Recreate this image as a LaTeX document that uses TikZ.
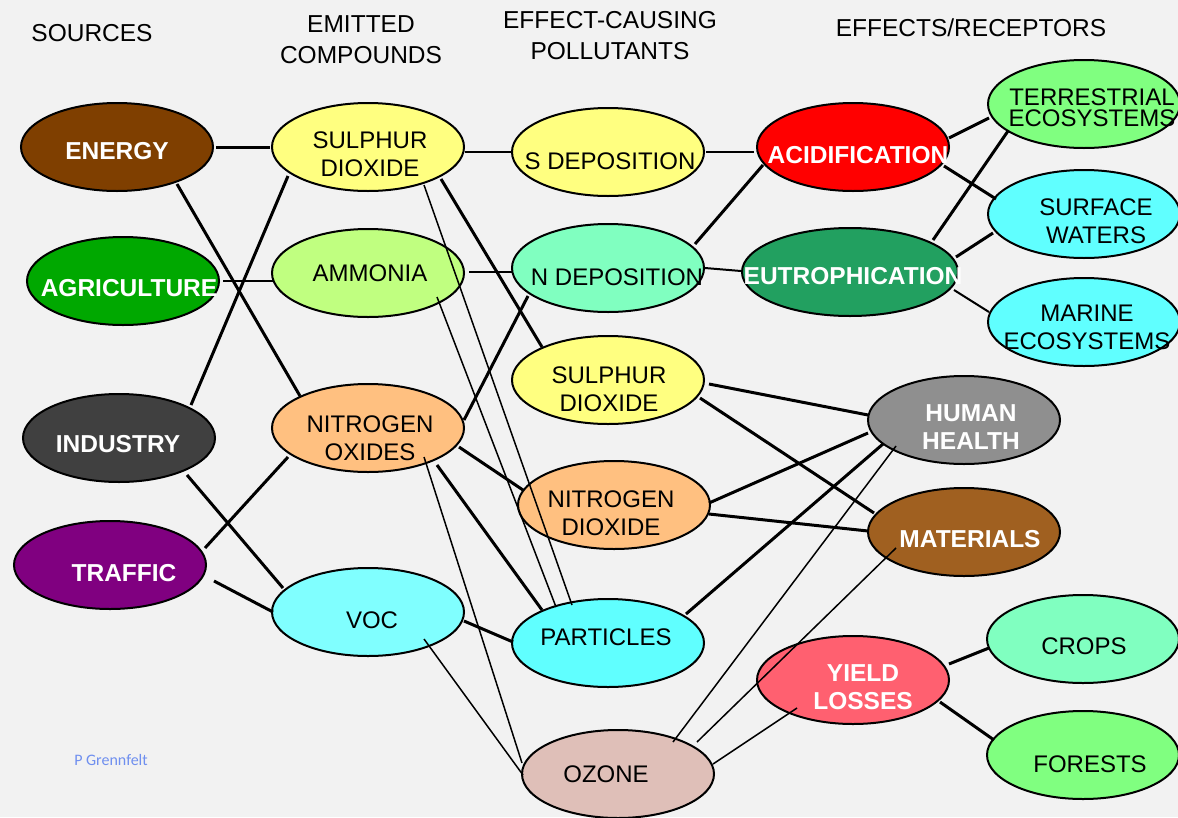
\documentclass[tikz,border=0pt]{standalone}
\usepackage{fontspec}
\setmainfont{Liberation Sans}
\newfontfamily\authorfont{Carlito}
\usetikzlibrary{shapes.geometric,calc}
\definecolor{bg}{HTML}{F2F2F2}
\definecolor{cEnergy}{HTML}{7F3F00}
\definecolor{cAgri}{HTML}{00A800}
\definecolor{cInd}{HTML}{404040}
\definecolor{cTraf}{HTML}{800080}
\definecolor{cYel}{HTML}{FFFF80}
\definecolor{cAmm}{HTML}{C0FF80}
\definecolor{cOra}{HTML}{FFC080}
\definecolor{cVoc}{HTML}{80FFFF}
\definecolor{cNdep}{HTML}{80FFC0}
\definecolor{cCyan}{HTML}{60FFFF}
\definecolor{cOzone}{HTML}{DFBFB8}
\definecolor{cAcid}{HTML}{FF0000}
\definecolor{cEutro}{HTML}{22A060}
\definecolor{cGreen}{HTML}{80FF80}
\definecolor{cHealth}{HTML}{8F8F8F}
\definecolor{cMat}{HTML}{A06020}
\definecolor{cYield}{HTML}{FF6070}
\definecolor{cAuthor}{HTML}{6F8FEF}
\tikzset{
  ell/.style={ellipse, draw=black, line width=2pt, minimum width=192pt, minimum height=88pt, inner sep=0pt},
  lbl/.style={font=\fontsize{24}{28}\selectfont, text=black, align=center, inner sep=0pt},
  wlbl/.style={font=\bfseries\fontsize{24.5}{28}\selectfont, text=white, align=center, inner sep=0pt},
  ttl/.style={font=\fontsize{24.5}{31}\selectfont, text=black, align=center, inner sep=0pt},
  heavy/.style={line width=3pt},
  medium/.style={line width=2pt},
  light/.style={line width=1.5pt},
}
\begin{document}
\begin{tikzpicture}[x=1pt,y=-1pt]
\fill[bg] (0,0) rectangle (1178,817);
\useasboundingbox (0,0) rectangle (1178,817);

% titles
\node[ttl] (t1) at (92,33) {SOURCES};
\node[ttl] (t2) at (361,40) {EMITTED\\COMPOUNDS};
\node[ttl] (t3) at (610,36) {EFFECT-CAUSING\\POLLUTANTS};
\node[ttl] (t4) at (971,28) {EFFECTS/RECEPTORS};
\node[font=\authorfont\fontsize{16}{18}\selectfont, text=cAuthor, inner sep=0pt] (author) at (111,760) {P Grennfelt};

% ellipses
\node[ell,fill=cEnergy] (energy) at (117,147) {};
\node[ell,fill=cAgri] (agri) at (123,281) {};
\node[ell,fill=cInd] (industry) at (119,438) {};
\node[ell,fill=cTraf] (traffic) at (110,565) {};

\node[ell,fill=cYel] (so2) at (368,147) {};
\node[ell,fill=cAmm] (nh3) at (368,273) {};
\node[ell,fill=cOra] (nox) at (368,428) {};
\node[ell,fill=cVoc] (voc) at (368,612) {};

\node[ell,fill=cYel] (sdep) at (608,152) {};
\node[ell,fill=cNdep] (ndep) at (608,268) {};
\node[ell,fill=cYel] (so2b) at (608,380) {};
\node[ell,fill=cOra] (no2) at (614,505) {};
\node[ell,fill=cCyan] (part) at (608,643) {};
\node[ell,fill=cOzone] (oz) at (618,774) {};

\node[ell,fill=cAcid] (acid) at (853,147) {};
\node[ell,fill=cEutro,minimum width=216pt] (eutro) at (850,272) {};
\node[ell,fill=cGreen] (terr) at (1084,104) {};
\node[ell,fill=cCyan] (surf) at (1084,214) {};
\node[ell,fill=cCyan] (marine) at (1084,322) {};
\node[ell,fill=cHealth] (health) at (964,420) {};
\node[ell,fill=cMat] (mat) at (964,532) {};
\node[ell,fill=cYield] (yield) at (853,680) {};
\node[ell,fill=cNdep] (crops) at (1083,639) {};
\node[ell,fill=cGreen] (forests) at (1083,755) {};

% connectors: sources -> emitted compounds
\draw[heavy] ($(energy)+(99,0)$) -- ($(so2)+(-98,0)$);
\draw[heavy] ($(energy)+(60,37)$) -- ($(nox)+(-68,-32)$);
\draw[medium] ($(agri)+(100,0)$) -- ($(nh3)+(-95,8)$);
\draw[heavy] ($(industry)+(72,-33)$) -- ($(so2)+(-80,29)$);
\draw[heavy] ($(industry)+(68,37)$) -- ($(voc)+(-85,-24)$);
\draw[heavy] ($(traffic)+(95,-17)$) -- ($(nox)+(-80,29)$);
\draw[heavy] ($(traffic)+(104,16)$) -- ($(voc)+(-95,0)$);

% emitted compounds -> pollutants
\draw[medium] ($(so2)+(97,5)$) -- ($(sdep)+(-96,0)$);
\draw[heavy] ($(so2)+(73,32)$) -- ($(so2b)+(-66,-33)$);
\draw[light] ($(so2)+(56,38)$) -- ($(part)+(-36,-38)$);
\draw[medium] ($(nh3)+(101,-1)$) -- ($(ndep)+(-96,4)$);
\draw[light] ($(nh3)+(69,24)$) -- ($(part)+(-52,-36)$);
\draw[heavy] ($(nox)+(96,-8)$) -- ($(ndep)+(-80,28)$);
\draw[heavy] ($(nox)+(91,19)$) -- ($(no2)+(-91,-15)$);
\draw[heavy] ($(nox)+(69,37)$) -- ($(part)+(-66,-33)$);
\draw[light] ($(nox)+(56,29)$) -- ($(oz)+(-96,-11)$);
\draw[heavy] ($(voc)+(96,9)$) -- ($(part)+(-95,-1)$);
\draw[light] ($(voc)+(56,27)$) -- ($(oz)+(-95,1)$);

% pollutants -> effects
\draw[medium] ($(sdep)+(98,0)$) -- ($(acid)+(-99,5)$);
\draw[heavy] ($(ndep)+(87,-24)$) -- ($(acid)+(-90,18)$);
\draw[medium] ($(ndep)+(97,0)$) -- ($(eutro)+(-109,-1)$);
\draw[heavy] ($(so2b)+(101,4)$) -- ($(health)+(-96,-5)$);
\draw[heavy] ($(so2b)+(92,18)$) -- ($(mat)+(-90,-19)$);
\draw[heavy] ($(no2)+(95,-2)$) -- ($(health)+(-96,13)$);
\draw[heavy] ($(no2)+(95,9)$) -- ($(mat)+(-96,-1)$);
\draw[heavy] ($(part)+(78,-29)$) -- ($(health)+(-81,24)$);
\draw[light] ($(oz)+(55,-32)$) -- ($(health)+(-68,26)$);
\draw[light] ($(oz)+(79,-32)$) -- ($(mat)+(-68,16)$);
\draw[light] ($(oz)+(95,-10)$) -- ($(yield)+(-56,28)$);

% effects -> receptors
\draw[heavy] ($(acid)+(96,-9)$) -- ($(terr)+(-95,14)$);
\draw[heavy] ($(acid)+(91,19)$) -- ($(surf)+(-88,-15)$);
\draw[heavy] ($(eutro)+(83,-32)$) -- ($(terr)+(-76,27)$);
\draw[heavy] ($(eutro)+(106,-15)$) -- ($(surf)+(-91,19)$);
\draw[medium] ($(eutro)+(104,18)$) -- ($(marine)+(-95,-10)$);
\draw[heavy] ($(yield)+(96,-16)$) -- ($(crops)+(-94,9)$);
\draw[heavy] ($(yield)+(87,22)$) -- ($(forests)+(-89,-15)$);

% labels
\node[wlbl] (energy-t) at (117,151) {ENERGY};
\node[wlbl] (agri-t) at (129,288) {AGRICULTURE};
\node[wlbl] (industry-t) at (118,444) {INDUSTRY};
\node[wlbl] (traffic-t) at (124,573) {TRAFFIC};

\node[lbl] (so2-t) at (370,154) {SULPHUR\\DIOXIDE};
\node[lbl] (nh3-t) at (370,273) {AMMONIA};
\node[lbl] (nox-t) at (370,438) {NITROGEN\\OXIDES};
\node[lbl] (voc-t) at (372,620) {VOC};

\node[lbl] (sdep-t) at (610,161) {S DEPOSITION};
\node[lbl] (ndep-t) at (617,277) {N DEPOSITION};
\node[lbl] (so2b-t) at (609,389) {SULPHUR\\DIOXIDE};
\node[lbl] (no2-t) at (611,513) {NITROGEN\\DIOXIDE};
\node[lbl] (part-t) at (606,637) {PARTICLES};
\node[lbl] (oz-t) at (606,774) {OZONE};

\node[wlbl] (acid-t) at (858,155) {ACIDIFICATION};
\node[wlbl] (eutro-t) at (853,276) {EUTROPHICATION};
\node[lbl,font=\fontsize{24}{21}\selectfont] (terr-t) at (1092,108) {TERRESTRIAL\\ECOSYSTEMS};
\node[lbl] (surf-t) at (1096,221) {SURFACE\\WATERS};
\node[lbl] (marine-t) at (1087,327) {MARINE\\ECOSYSTEMS};
\node[wlbl] (health-t) at (971,427) {HUMAN\\HEALTH};
\node[wlbl] (mat-t) at (970,539) {MATERIALS};
\node[wlbl] (yield-t) at (863,687) {YIELD\\LOSSES};
\node[lbl] (crops-t) at (1084,646) {CROPS};
\node[lbl] (forests-t) at (1090,764) {FORESTS};
\end{tikzpicture}
\end{document}
